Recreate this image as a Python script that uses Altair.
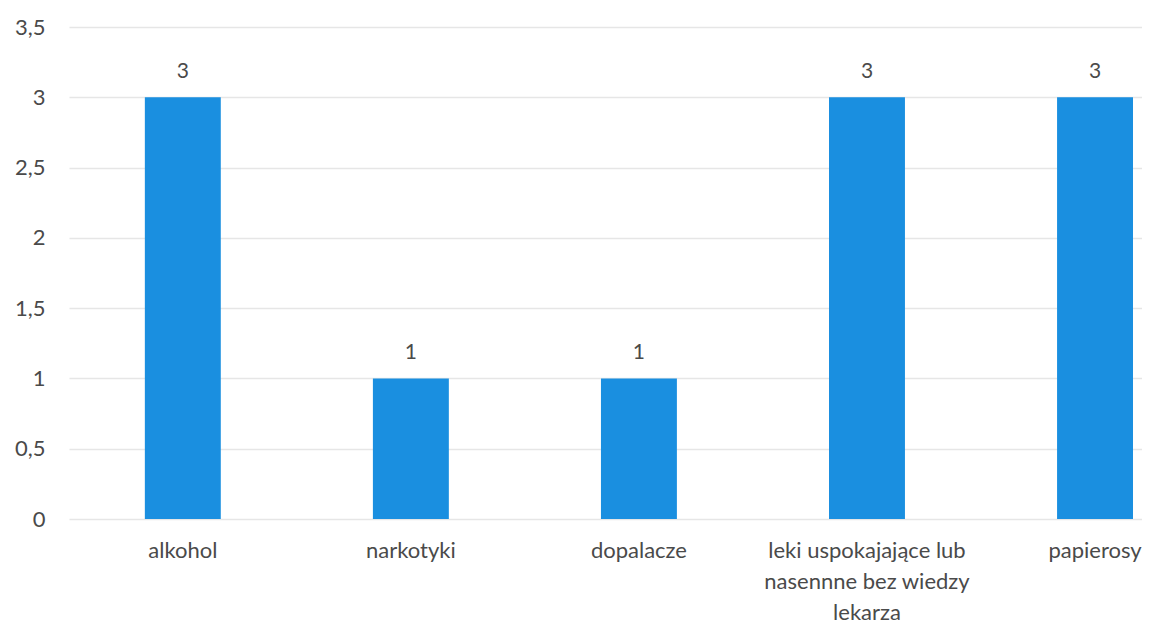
import altair as alt
import pandas as pd

categories = ["alkohol", "narkotyki", "dopalacze",
              "leki uspokajające lub|nasennne bez wiedzy|lekarza", "papierosy"]
values = [3, 1, 1, 3, 3]

df = pd.DataFrame({"kategoria": categories, "wartosc": values})

FONT = "Lato"
TXT = "#4a4a4a"

base = alt.Chart(df).encode(
    x=alt.X("kategoria:N", sort=None, title=None,
            scale=alt.Scale(paddingInner=0.667, paddingOuter=0.186, align=0.894),
            axis=alt.Axis(labelAngle=0, labelFontSize=22, labelColor=TXT, labelFont=FONT,
                          labelPadding=21, labelLineHeight=31, ticks=False, domain=False,
                          labelLimit=400, labelExpr="split(datum.label, '|')")),
    y=alt.Y("wartosc:Q", title=None,
            scale=alt.Scale(domain=[0, 3.5], nice=False),
            axis=alt.Axis(values=[0, 0.5, 1, 1.5, 2, 2.5, 3, 3.5], labelFontSize=22,
                          labelColor=TXT, labelFont=FONT, labelPadding=24, ticks=False,
                          domain=False, gridColor="#e6e6e6", gridWidth=1.5,
                          labelExpr="replace(format(datum.value, '.1~f'), '.', ',')")),
)

bars = base.mark_bar(color="#1a8fe0")
labels = base.mark_text(dy=-19, baseline="alphabetic", fontSize=21, color=TXT, font=FONT).encode(
    text=alt.Text("wartosc:Q", format="d"))

chart = (bars + labels).properties(
    width=1073, height=492,
    autosize=alt.AutoSizeParams(type="none"),
    padding={"left": 61, "top": 19, "right": 0, "bottom": 106},
    background="white",
).configure_view(stroke=None)

chart.save("out.html", embed_options={"renderer": "svg", "actions": False})
